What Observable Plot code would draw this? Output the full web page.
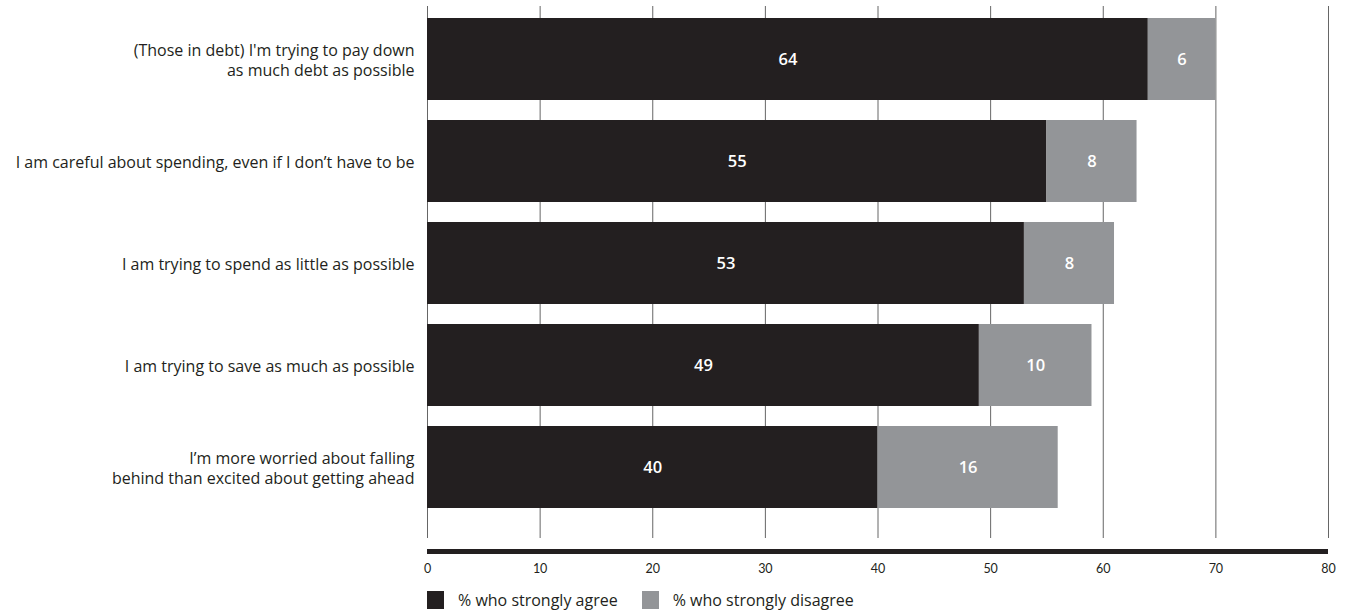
<!DOCTYPE html>
<html>
<head>
<meta charset="utf-8">
<script src="https://cdn.jsdelivr.net/npm/d3@7"></script>
<script src="https://cdn.jsdelivr.net/npm/@observablehq/plot@0.6"></script>
<style>
  html, body { margin: 0; padding: 0; background: #fff; }
  body { width: 1345px; height: 612px; overflow: hidden; font-family: "Open Sans", Lato, sans-serif; }
  #legend { display: flex; align-items: center; margin-left: 427px; height: 20px; font-size: 16px; color: #231f20; }
  #legend .sw { width: 17px; height: 18px; display: inline-block; margin-right: 14px; }
  #legend .item { display: flex; align-items: center; margin-right: 24px; }
</style>
</head>
<body>
<div id="chart"></div>
<div id="legend"></div>
<script>
const questions = [
  "(Those in debt) I'm trying to pay down\nas much debt as possible",
  "I am careful about spending, even if I don’t have to be",
  "I am trying to spend as little as possible",
  "I am trying to save as much as possible",
  "I’m more worried about falling\nbehind than excited about getting ahead"
];
const agree = [64, 55, 53, 49, 40];
const disagree = [6, 8, 8, 10, 16];
const seriesNames = ["% who strongly agree", "% who strongly disagree"];
const seriesColors = ["#231f20", "#939598"];
const xTicks = [0, 10, 20, 30, 40, 50, 60, 70, 80];

const rows = [];
questions.forEach((q, i) => {
  rows.push({q, series: seriesNames[0], value: agree[i]});
  rows.push({q, series: seriesNames[1], value: disagree[i]});
});

const W = 1345, H = 590, mTop = 6, mBottom = 70, mLeft = 427, mRight = 17;
const frameMid = (mTop + (H - mBottom)) / 2;

const chart = Plot.plot({
  width: W,
  height: H,
  marginTop: mTop,
  marginBottom: mBottom,
  marginLeft: mLeft,
  marginRight: mRight,
  style: {fontFamily: "'Open Sans', Lato, sans-serif", background: "#fff", color: "#231f20"},
  x: {domain: [0, 80], axis: null},
  y: {domain: questions, paddingInner: 0.2, paddingOuter: 0.1, axis: null},
  color: {domain: seriesNames, range: seriesColors},
  marks: [
    Plot.ruleX(xTicks, {stroke: "#666", strokeWidth: 1, insetBottom: -18}),
    Plot.barX(rows, {x: "value", y: "q", fill: "series", order: seriesNames}),
    Plot.text(rows, Plot.stackX({x: "value", y: "q", z: "series", order: seriesNames, text: d => String(d.value), fill: "white", fontSize: 16.5, fontWeight: 600})),
    Plot.ruleY([0], {y: null, x1: 0, x2: 80, stroke: "#231f20", strokeWidth: 5, dy: 551 - frameMid}),
    Plot.axisX({ticks: xTicks, tickSize: 0, tickPadding: 44, fontSize: 12.5, fontFamily: "Lato, sans-serif", tickFormat: d => String(d), label: null}),
    Plot.axisY({tickSize: 0, tickPadding: 13, fontSize: 16, lineHeight: 1.22, label: null})
  ]
});
document.getElementById("chart").appendChild(chart);

const legend = document.getElementById("legend");
seriesNames.forEach((name, i) => {
  const item = document.createElement("span");
  item.className = "item";
  const sw = document.createElement("span");
  sw.className = "sw";
  sw.style.background = seriesColors[i];
  item.appendChild(sw);
  item.appendChild(document.createTextNode(name));
  legend.appendChild(item);
});
</script>
</body>
</html>
